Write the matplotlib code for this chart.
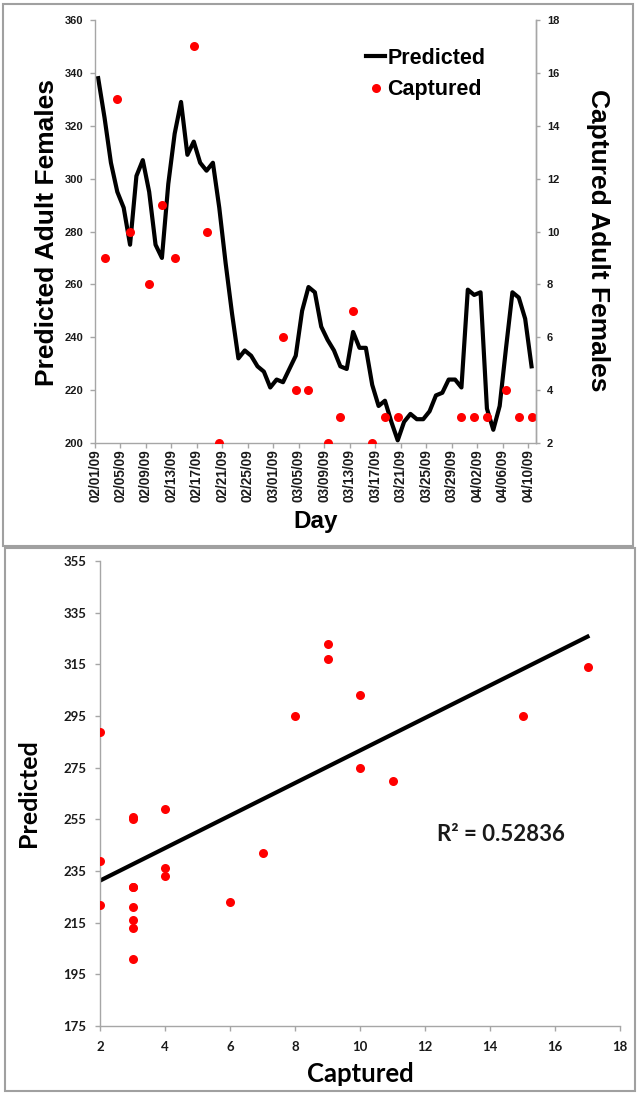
import numpy as np
import matplotlib.pyplot as plt
from matplotlib.patches import Rectangle
from datetime import date, timedelta

# daily model output, 02/01/09 .. 04/10/09
start = date(2009, 2, 1)
predicted = [338, 323, 306, 295, 289, 275, 301, 307, 295, 275,
             270, 298, 317, 329, 309, 314, 306, 303, 306, 289,
             268, 249, 232, 235, 233, 229, 227, 221, 224, 223,
             228, 233, 250, 259, 257, 244, 239, 235, 229, 228,
             242, 236, 236, 222, 214, 216, 208, 201, 208, 211,
             209, 209, 212, 218, 219, 224, 224, 221, 258, 256,
             257, 213, 205, 214, 236, 257, 255, 247, 229]

# trap catches (day index from 02/01/09)
capture_days = [1, 3, 5, 8, 10, 12, 15, 17, 19, 29, 31, 33,
                36, 38, 40, 43, 45, 47, 57, 59, 61, 64, 66, 68]
captured = [9, 15, 10, 8, 11, 9, 17, 10, 2, 6, 4, 4,
            2, 3, 7, 2, 3, 3, 3, 3, 3, 4, 3, 3]
r2_label = 'R\u00b2 = 0.52836'

W, H = 641, 1095
fig = plt.figure(figsize=(W / 100, H / 100), dpi=100)

# grey frames around both panels
for (x0, y0, x1, y1) in [(3, 4, 633, 546), (5, 548, 635, 1091)]:
    fig.patches.append(Rectangle((x0 / W, 1 - y1 / H), (x1 - x0) / W, (y1 - y0) / H,
                                 transform=fig.transFigure, fill=False,
                                 ec='#a0a0a0', lw=1.5))

arial = 'Liberation Sans'
calibri = 'Lato'
grey = '#a6a6a6'
ink = '#1a1a1a'

# ---------------- top panel: time series ----------------
ax = fig.add_axes([95 / W, 1 - 443 / H, 441 / W, 423 / H])
days = np.arange(len(predicted))
ax.plot(days + 0.5, predicted, color='black', lw=3, label='Predicted',
        solid_joinstyle='round')
ax.set_xlim(0, 69.2)
ax.set_ylim(200, 360)
ax.set_yticks(range(200, 361, 20))
tick_days = np.arange(0, 69, 4)
ax.set_xticks(tick_days)
ax.set_xticklabels([(start + timedelta(days=int(d))).strftime('%m/%d/%y')
                    for d in tick_days], rotation=90)

ax2 = ax.twinx()
ax2.plot(np.array(capture_days) + 0.5, captured, 'o', color='#ff0000',
         ms=6.5, mew=0, label='Captured')
ax2.set_ylim(2, 18)
ax2.set_yticks(range(2, 19, 2))

for a in (ax, ax2):
    a.spines['top'].set_visible(False)
    for s in a.spines.values():
        s.set_color(grey)
        s.set_linewidth(1)
ax2.spines['left'].set_visible(False)
ax2.spines['bottom'].set_visible(False)

ax.tick_params(axis='y', length=3.5, width=1, color=grey, pad=5, labelsize=8,
               labelcolor=ink)
ax.tick_params(axis='x', length=3.5, width=1, color=grey, pad=1, labelsize=9.8,
               labelcolor=ink)
ax2.tick_params(axis='y', length=3, width=1, color=grey, pad=5, labelsize=8,
                labelcolor=ink)
for lab in ax.get_xticklabels() + ax.get_yticklabels() + ax2.get_yticklabels():
    lab.set_fontfamily(arial)
    lab.set_fontweight('bold')

ax.set_ylabel('Predicted Adult Females', fontsize=19, fontweight='bold',
              family=arial, va='center')
ax.yaxis.set_label_coords(-0.108, 0.498)
ax2.set_ylabel('Captured Adult Females', fontsize=19, fontweight='bold',
               family=arial, rotation=270, va='center')
ax2.yaxis.set_label_coords(1.14, 0.48)
ax.set_xlabel('Day', fontsize=17.5, fontweight='bold', family=arial, va='center')
ax.xaxis.set_label_coords(0.5, -0.185)

handles = ax.get_legend_handles_labels()[0] + ax2.get_legend_handles_labels()[0]
leg = ax.legend(handles=handles, loc='upper left',
                bbox_to_anchor=(366 / W, 1 - 48 / H),
                bbox_transform=fig.transFigure, frameon=False,
                handlelength=0.9, handletextpad=0.1, labelspacing=0.48,
                borderpad=0, borderaxespad=0,
                prop={'family': arial, 'weight': 'bold', 'size': 15.5})

# ---------------- bottom panel: captured vs predicted ----------------
bx = fig.add_axes([100 / W, 1 - 1026 / H, 520 / W, 465 / H])
pred_at_capture = np.array([predicted[d] for d in capture_days], dtype=float)
cap = np.array(captured, dtype=float)
slope, icpt = np.polyfit(cap, pred_at_capture, 1)
fit_x = np.array([cap.min(), cap.max()])
bx.plot(fit_x, slope * fit_x + icpt, color='black', lw=3, zorder=2)
bx.plot(cap, pred_at_capture, 'o', color='#ff0000', ms=6.5, mew=0, zorder=3)

bx.set_xlim(2, 18)
bx.set_ylim(175, 355)
bx.set_xticks(range(2, 19, 2))
bx.set_yticks(range(175, 356, 20))
for s in ['top', 'right']:
    bx.spines[s].set_visible(False)
for s in ['left', 'bottom']:
    bx.spines[s].set_color(grey)
    bx.spines[s].set_linewidth(1)
bx.tick_params(axis='both', length=3.5, width=1, color=grey, labelsize=9.5,
               labelcolor=ink)
bx.tick_params(axis='y', pad=6.5)
bx.tick_params(axis='x', pad=7)
for lab in bx.get_xticklabels() + bx.get_yticklabels():
    lab.set_fontfamily(calibri)
    lab.set_fontweight('bold')

bx.set_ylabel('Predicted', fontsize=18, fontweight='bold', family=calibri,
              va='center')
bx.yaxis.set_label_coords(-0.137, 0.5)
bx.set_xlabel('Captured', fontsize=18.5, fontweight='bold', family=calibri,
              va='center')
bx.xaxis.set_label_coords(0.5, -0.103)

bx.text(0.648, 0.411, r2_label, transform=bx.transAxes, ha='left',
        va='center', fontsize=16, fontweight='bold', family=calibri, color=ink)

fig.savefig('out.png', dpi=100)
